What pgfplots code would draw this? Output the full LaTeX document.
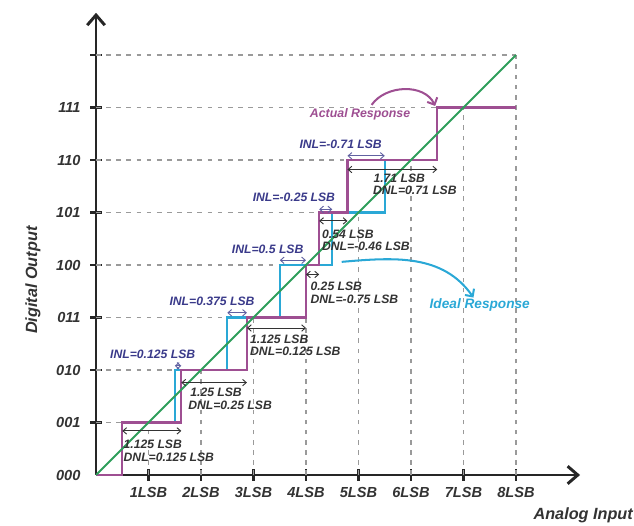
\documentclass[border=0pt]{standalone}
\usepackage{pgfplots}
\pgfplotsset{compat=1.18}
\usepackage{fontspec}
\setmainfont{Liberation Sans}
\usetikzlibrary{arrows.meta}
\definecolor{actual}{HTML}{9E4F92}
\definecolor{ideal}{HTML}{2AA8D6}
\definecolor{diag}{HTML}{2E9E5B}
\definecolor{inlc}{HTML}{3A3A8A}
\definecolor{txt}{HTML}{333333}
\definecolor{gridc}{HTML}{9A9A9A}
\newcommand{\bi}[1]{\textbf{\textit{#1}}}
\tikzset{
  dnl/.style={txt, line width=0.5pt, {Straight Barb[length=2pt,width=3.5pt]}-{Straight Barb[length=2pt,width=3.5pt]}},
  inl/.style={inlc!80, line width=0.5pt, {Straight Barb[length=2pt,width=3.5pt]}-{Straight Barb[length=2pt,width=3.5pt]}},
  lbl/.style={anchor=west, inner sep=0pt, text=txt, font=\fontsize{6.6}{8}\selectfont\bfseries\itshape},
  ilbl/.style={inner sep=0pt, text=inlc, font=\fontsize{6.6}{8}\selectfont\bfseries\itshape},
  gl/.style={gridc, line width=0.6pt, dash pattern=on 2.5pt off 3pt},
}
\begin{document}
\begin{tikzpicture}
\begin{axis}[
  x=1cm, y=1cm,
  xmin=0, xmax=9.22, ymin=0, ymax=8.805,
  enlargelimits=false,
  clip=false,
  axis lines=left,
  axis line style={line width=1.6pt, black!85, -{Straight Barb[length=5.5pt,width=9.5pt,line width=1.6pt]}},
  xtick={1,2,3,4,5,6,7,8},
  xticklabels={\bi{1LSB},\bi{2LSB},\bi{3LSB},\bi{4LSB},\bi{5LSB},\bi{6LSB},\bi{7LSB},\bi{8LSB}},
  ytick={1,2,3,4,5,6,7,8},
  yticklabels={\bi{001},\bi{010},\bi{011},\bi{100},\bi{101},\bi{110},\bi{111},{}},
  extra y ticks={0},
  extra y tick labels={\bi{000}},
  extra y tick style={major tick length=0pt, yticklabel style={xshift=-3.3pt}},
  tick align=center,
  major tick length=6.5pt,
  tick style={line width=1.2pt, black!85},
  tick label style={font=\fontsize{7.9}{9}\selectfont, text=txt},
  yticklabel style={xshift=-1.6pt},
]
% invisible frame giving the picture its size
\path (axis cs:-1.829,-0.971) rectangle (axis cs:10.248,9.048);
% dashed guide lines
\pgfplotsinvokeforeach{1,2,3,4,5,6,7,8}{
  \draw[gl] (axis cs:0,#1) -- (axis cs:#1,#1);
  \draw[gl] (axis cs:#1,0) -- (axis cs:#1,#1);
}
% ideal response
\addplot[ideal, line width=1.2pt, mark=none] coordinates {
 (0.5,1) (1.5,1) (1.5,2) (2.5,2) (2.5,3) (3.5,3) (3.5,4) (4.5,4) (4.5,5) (5.5,5) (5.5,6) (6.5,6) (6.5,7) (8,7)
};
% actual response
\addplot[actual, line width=1.2pt, mark=none] coordinates {
 (0,0) (0.5,0) (0.5,1) (1.625,1) (1.625,2) (2.875,2) (2.875,3) (4,3) (4,4) (4.25,4) (4.25,5) (4.79,5) (4.79,6) (6.5,6) (6.5,7) (8,7)
};
% diagonal
\addplot[diag, line width=1pt, mark=none] coordinates {(0,0) (8,8)};

% DNL arrows
\draw[dnl] (axis cs:0.5,0.84) -- (axis cs:1.625,0.84);
\draw[dnl] (axis cs:1.625,1.76) -- (axis cs:2.875,1.76);
\draw[dnl] (axis cs:2.875,2.8) -- (axis cs:4.0,2.8);
\draw[dnl] (axis cs:4.0,3.82) -- (axis cs:4.25,3.82);
\draw[dnl] (axis cs:4.25,4.84) -- (axis cs:4.79,4.84);
\draw[dnl] (axis cs:4.79,5.82) -- (axis cs:6.5,5.82);
% INL arrows
\draw[inl] (axis cs:1.5,2.08) -- (axis cs:1.625,2.08);
\draw[inl] (axis cs:2.5,3.09) -- (axis cs:2.875,3.09);
\draw[inl] (axis cs:3.5,4.09) -- (axis cs:4.0,4.09);
\draw[inl] (axis cs:4.25,5.06) -- (axis cs:4.5,5.06);
\draw[inl] (axis cs:4.79,6.08) -- (axis cs:5.5,6.08);

% DNL texts
\node[lbl] at (axis cs:0.52,0.59) {1.125 LSB};
\node[lbl] at (axis cs:0.52,0.33) {DNL=0.125 LSB};
\node[lbl] at (axis cs:1.79,1.57) {1.25 LSB};
\node[lbl] at (axis cs:1.75,1.33) {DNL=0.25 LSB};
\node[lbl] at (axis cs:2.93,2.58) {1.125 LSB};
\node[lbl] at (axis cs:2.93,2.36) {DNL=0.125 LSB};
\node[lbl] at (axis cs:4.08,3.6) {0.25 LSB};
\node[lbl] at (axis cs:4.08,3.35) {DNL=-0.75 LSB};
\node[lbl] at (axis cs:4.3,4.58) {0.54 LSB};
\node[lbl] at (axis cs:4.3,4.35) {DNL=-0.46 LSB};
\node[lbl] at (axis cs:5.28,5.65) {1.71 LSB};
\node[lbl] at (axis cs:5.27,5.42) {DNL=0.71 LSB};
% INL texts
\node[ilbl] at (axis cs:1.08,2.29) {INL=0.125 LSB};
\node[ilbl] at (axis cs:2.21,3.30) {INL=0.375 LSB};
\node[ilbl] at (axis cs:3.27,4.30) {INL=0.5 LSB};
\node[ilbl] at (axis cs:3.77,5.29) {INL=-0.25 LSB};
\node[ilbl] at (axis cs:4.66,6.30) {INL=-0.71 LSB};

% response labels and arrows
\node[inner sep=0pt, text=actual, font=\fontsize{6.7}{8}\selectfont\bfseries\itshape] at (axis cs:5.03,6.88) {Actual Response};
\draw[actual, line width=1.1pt, -{Straight Barb[length=3pt,width=6pt]}] (axis cs:5.25,7.05) to[out=55, in=115] (axis cs:6.46,7.03);
\node[inner sep=0pt, text=ideal, font=\fontsize{7.4}{9}\selectfont\bfseries\itshape] at (axis cs:7.31,3.24) {Ideal Response};
\draw[ideal, line width=1.1pt, -{Straight Barb[length=3pt,width=6pt]}] (axis cs:4.68,4.06) to[out=5, in=125] (axis cs:7.19,3.38);

% axis titles
\node[rotate=90, inner sep=0pt, text=txt, font=\fontsize{8.8}{10}\selectfont\bfseries\itshape] at (axis cs:-1.2,3.71) {Digital Output};
\node[inner sep=0pt, text=txt, font=\fontsize{8.8}{10}\selectfont\bfseries\itshape] at (axis cs:9.28,-0.76) {Analog Input};
\end{axis}
\end{tikzpicture}
\end{document}
